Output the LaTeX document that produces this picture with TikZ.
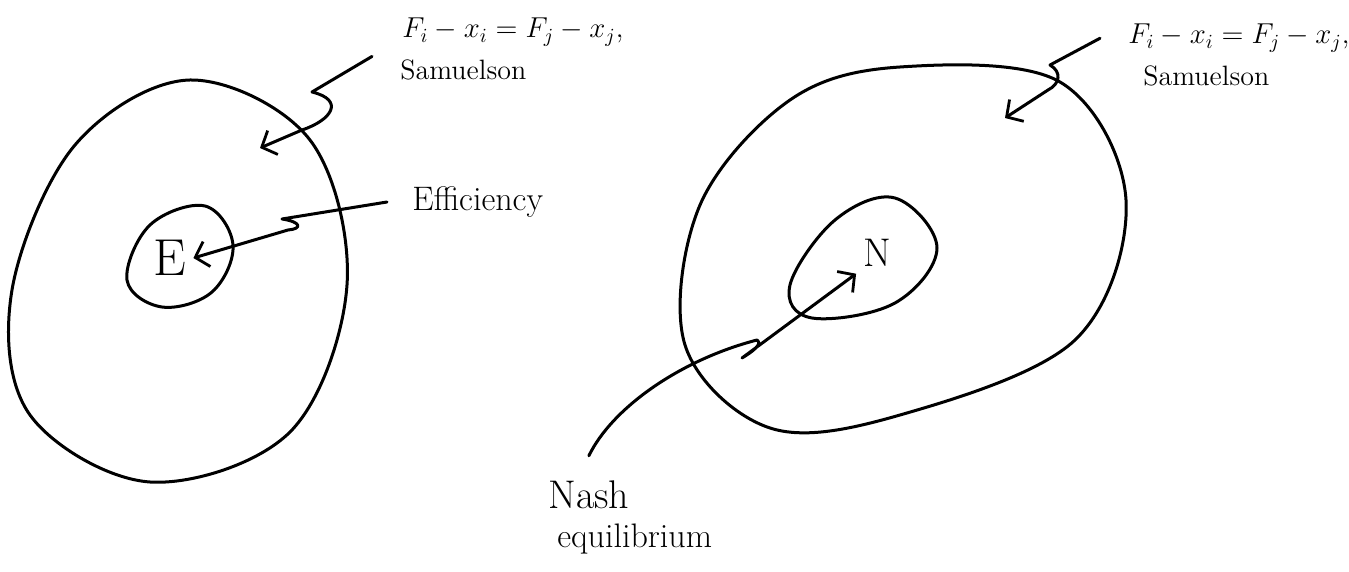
\documentclass[tikz,border=0pt]{standalone}
\usepackage{tikz}
\usetikzlibrary{arrows.meta,positioning}
\tikzset{
  every picture/.style={line join=round, line cap=round},
  sketch/.style={draw=black, line width=1.5pt},
  pointer/.style={sketch, -{Straight Barb[length=6pt,width=13pt,line width=1.4pt]}},
  note/.style={inner sep=0pt, font=\fontsize{14}{17}\selectfont},
  bignote/.style={inner sep=0pt, font=\fontsize{17}{20}\selectfont},
}

\begin{document}
\begin{tikzpicture}[x=0.5pt, y=-0.5pt]
\useasboundingbox (0,0) rectangle (1349,572);

%% Left sketch: Samuelson region around the efficient set
\draw[sketch] plot[smooth cycle, tension=0.58] coordinates {
  (190,80) (310,140) (347,285) (290,432) (150,482) (30,415) (12,290)
  (75,145)};
\draw[sketch] plot[smooth cycle, tension=0.62] coordinates {
  (205,206) (233,245) (212,292) (162,307) (127,280) (150,225)};
\node[font=\fontsize{26}{30}\selectfont] (E) at (170,258) {E};

% labels
\node[note, anchor=base west] (lform) at (402,38) {$F_i - x_i = F_j - x_j$,};
\node[note, anchor=base west] (lsam) at (400,80) {Samuelson};
\node[bignote, anchor=west] (effic) at (412,202) {Efficiency};
\coordinate (lsamtip) at (260,148);

% pointers
\draw[pointer] ([xshift=-14pt,yshift=7pt]lsam.west) -- (312,92)
  .. controls (345,100) and (332,120) .. (302,130) -- (lsamtip);
\draw[pointer] ([xshift=-12.5pt]effic.west) -- (282,219)
  .. controls (302,222) and (302,229) .. (288,230) -- (E.east);

%% Right sketch: Samuelson region around the Nash equilibrium
\draw[sketch] plot[smooth cycle, tension=0.58] coordinates {
  (900,67) (1060,82) (1126,200) (1075,340) (900,415) (770,428)
  (685,345) (700,205) (790,100)};
\draw[sketch] plot[smooth cycle, tension=0.62] coordinates {
  (895,198) (937,248) (895,303) (812,318) (790,285) (835,220)};
\node[font=\fontsize{20}{24}\selectfont] (N) at (877,253) {N};

% labels
\node[note, anchor=base west] (rform) at (1128,44) {$F_i - x_i = F_j - x_j$,};
\node[note, anchor=base west] (rsam) at (1143,86) {Samuelson};
\node[inner sep=0pt, font=\fontsize{20}{24}\selectfont, anchor=base west] (nash) at (548,508) {Nash};
\node[bignote, anchor=base west] (equil) at (557,547) {equilibrium};
\coordinate (rsamtip) at (1005,118);

% pointers
\draw[pointer] ([xshift=-14pt]rform.west) -- (1050,65)
  .. controls (1062,72) and (1060,84) .. (1048,90) -- (rsamtip);
\draw[pointer] ([yshift=12pt]nash.north)
  .. controls (612,408) and (680,360) .. (757,340)
  .. controls (763,344) and (752,352) .. (742,358) -- (N.south west);

\end{tikzpicture}
\end{document}
